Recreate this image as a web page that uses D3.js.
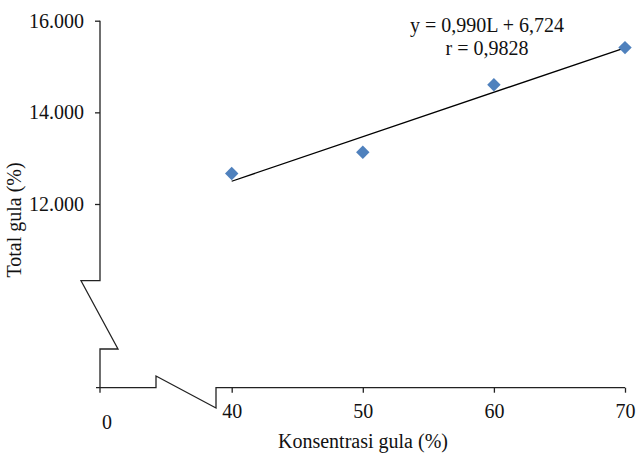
<!DOCTYPE html>
<html>
<head>
<meta charset="utf-8">
<script src="https://cdn.jsdelivr.net/npm/d3@7"></script>
<style>
  body { margin: 0; background: #fff; }
  text { font-family: "Liberation Serif", "Times New Roman", serif; fill: #111; }
  .axis path.domain { display: none; }
  .axis line { stroke: #222; stroke-width: 1.3px; }
</style>
</head>
<body>
<div id="chart"></div>
<script>
// data
var konsentrasi = [40, 50, 60, 70];
var totalGula = [12.667, 13.130, 14.602, 15.413];
var yTicks = [12, 14, 16];
var xTicks = [40, 50, 60, 70];
var equationText = ['y = 0,990L + 6,724', 'r = 0,9828'];

var width = 641, height = 462;
var fontSize = 20;

var svg = d3.select('#chart')
  .append('svg')
  .attr('width', width)
  .attr('height', height);

var x = d3.scaleLinear().domain([40, 70]).range([231.7, 625]);
var y = d3.scaleLinear().domain([12, 16]).range([204, 20.7]);

var axisX0 = 100;      // y axis position (x = 0)
var axisY0 = 387.7;    // x axis position (y = 0)

// y axis with ticks
svg.append('g')
  .attr('class', 'axis')
  .attr('transform', 'translate(' + axisX0 + ',0)')
  .call(d3.axisLeft(y).tickValues(yTicks).tickFormat(d3.format('.3f')).tickSize(5).tickPadding(11))
  .selectAll('text')
  .style('font-size', fontSize + 'px');

// x axis with ticks
svg.append('g')
  .attr('class', 'axis')
  .attr('transform', 'translate(0,' + axisY0 + ')')
  .call(d3.axisBottom(x).tickValues(xTicks).tickSize(5).tickPadding(11))
  .selectAll('text')
  .style('font-size', fontSize + 'px');

// broken axis lines
var yAxisPath = d3.path();
yAxisPath.moveTo(axisX0, y(16));
yAxisPath.lineTo(axisX0, 280.7);
yAxisPath.lineTo(81, 280.7);
yAxisPath.lineTo(118, 349);
yAxisPath.lineTo(axisX0, 349);
yAxisPath.lineTo(axisX0, axisY0);

var xAxisPath = d3.path();
xAxisPath.moveTo(96, axisY0);
xAxisPath.lineTo(156, axisY0);
xAxisPath.lineTo(156, 376);
xAxisPath.lineTo(216, 408);
xAxisPath.lineTo(216, axisY0);
xAxisPath.lineTo(x(70), axisY0);

svg.append('path').attr('d', yAxisPath.toString())
  .attr('fill', 'none').attr('stroke', '#222').attr('stroke-width', 1.3);
svg.append('path').attr('d', xAxisPath.toString())
  .attr('fill', 'none').attr('stroke', '#222').attr('stroke-width', 1.3);

// origin tick and label
svg.append('line')
  .attr('x1', axisX0).attr('x2', axisX0)
  .attr('y1', axisY0).attr('y2', axisY0 + 5)
  .attr('stroke', '#222').attr('stroke-width', 1.3);
svg.append('text')
  .attr('x', 107).attr('y', 422)
  .attr('dy', '0.35em')
  .attr('text-anchor', 'middle')
  .style('font-size', fontSize + 'px')
  .text('0');

// regression line from the data
var points = konsentrasi.map(function(k, i) { return { k: k, g: totalGula[i] }; });
var mk = d3.mean(points, function(d) { return d.k; });
var mg = d3.mean(points, function(d) { return d.g; });
var slope = d3.sum(points, function(d) { return (d.k - mk) * (d.g - mg); }) /
            d3.sum(points, function(d) { return (d.k - mk) * (d.k - mk); });
var intercept = mg - slope * mk;
var ext = d3.extent(konsentrasi);

svg.append('line')
  .attr('x1', x(ext[0])).attr('y1', y(intercept + slope * ext[0]))
  .attr('x2', x(ext[1])).attr('y2', y(intercept + slope * ext[1]))
  .attr('stroke', '#000').attr('stroke-width', 1.3);

// markers
svg.selectAll('.pt')
  .data(points)
  .enter().append('path')
  .attr('class', 'pt')
  .attr('d', d3.symbol().type(d3.symbolDiamond2).size(115))
  .attr('transform', function(d) { return 'translate(' + x(d.k) + ',' + y(d.g) + ')'; })
  .attr('fill', '#4F81BD');

// equation
svg.selectAll('.eq')
  .data(equationText)
  .enter().append('text')
  .attr('class', 'eq')
  .attr('x', 487)
  .attr('y', function(d, i) { return 25 + i * 23; })
  .attr('dy', '0.35em')
  .attr('text-anchor', 'middle')
  .style('font-size', fontSize + 'px')
  .text(function(d) { return d; });

// axis titles
svg.append('text')
  .attr('x', 363).attr('y', 441)
  .attr('dy', '0.35em')
  .attr('text-anchor', 'middle')
  .style('font-size', fontSize + 'px')
  .text('Konsentrasi gula (%)');

svg.append('text')
  .attr('transform', 'translate(14,220) rotate(-90)')
  .attr('dy', '0.35em')
  .attr('text-anchor', 'middle')
  .style('font-size', fontSize + 'px')
  .text('Total gula (%)');
</script>
</body>
</html>
